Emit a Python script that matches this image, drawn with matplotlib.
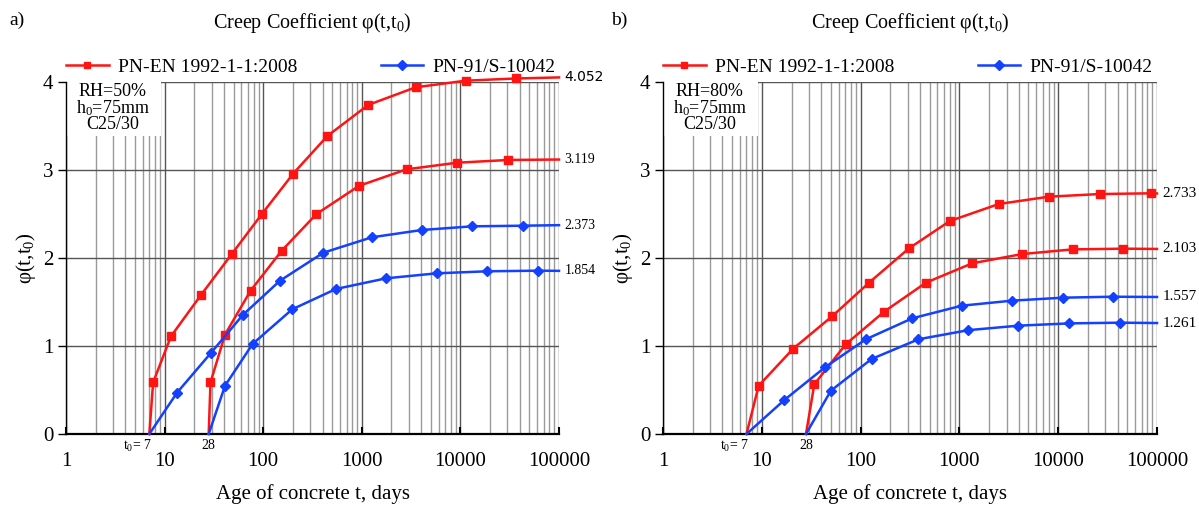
import matplotlib
matplotlib.use("Agg")
import matplotlib.pyplot as plt
from matplotlib.ticker import LogLocator, NullFormatter, FixedLocator
from matplotlib.patches import Rectangle
from matplotlib.lines import Line2D

plt.rcParams['font.family'] = ['Liberation Serif', 'DejaVu Serif']
plt.rcParams['mathtext.fontset'] = 'custom'
plt.rcParams['mathtext.rm'] = 'Liberation Serif'
plt.rcParams['mathtext.it'] = 'Liberation Serif:italic'
plt.rcParams['mathtext.default'] = 'regular'

# ---------------- data ----------------
# Panel a) RH = 50 %
a_en7_t = [7, 7.65, 11.6, 23.4, 48, 97, 202, 447, 1164, 3520, 11300, 36400, 100000]
a_en7_phi = [0, 0.586, 1.11, 1.58, 2.045, 2.50, 2.96, 3.386, 3.74, 3.94, 4.015, 4.04, 4.052]
a_en28_t = [28, 29.2, 41, 74.6, 154, 347, 937, 2850, 9300, 30600, 100000]
a_en28_phi = [0, 0.586, 1.13, 1.63, 2.083, 2.50, 2.82, 3.008, 3.083, 3.114, 3.119]
a_pn7_t = [7, 13.4, 29.3, 62, 148, 407, 1260, 4050, 13200, 42900, 100000]
a_pn7_phi = [0, 0.471, 0.917, 1.352, 1.742, 2.06, 2.235, 2.318, 2.36, 2.367, 2.373]
a_pn28_t = [28, 41, 78, 197, 547, 1760, 5750, 18700, 61600, 100000]
a_pn28_phi = [0, 0.548, 1.023, 1.417, 1.648, 1.769, 1.826, 1.849, 1.856, 1.854]
a_end_labels = ["4.052", "3.119", "2.373", "1.854"]
a_end_values = [4.052, 3.119, 2.373, 1.854]

# Panel b) RH = 80 %
b_en7_t = [7, 9.3, 20.8, 51.8, 122, 309, 800, 2510, 8070, 26500, 86300, 100000]
b_en7_phi = [0, 0.549, 0.97, 1.34, 1.72, 2.11, 2.42, 2.614, 2.697, 2.727, 2.735, 2.733]
b_en28_t = [28, 34, 70.6, 173, 459, 1350, 4330, 14000, 45600, 100000]
b_en28_phi = [0, 0.565, 1.019, 1.39, 1.72, 1.94, 2.045, 2.098, 2.106, 2.103]
b_pn7_t = [7, 16.9, 43.6, 113, 334, 1055, 3380, 11100, 35600, 100000]
b_pn7_phi = [0, 0.386, 0.758, 1.076, 1.315, 1.458, 1.515, 1.549, 1.56, 1.557]
b_pn28_t = [28, 50, 129, 384, 1230, 3950, 12900, 42200, 100000]
b_pn28_phi = [0, 0.492, 0.852, 1.076, 1.18, 1.231, 1.257, 1.265, 1.261]
b_end_labels = ["2.733", "2.103", "1.557", "1.261"]
b_end_values = [2.733, 2.103, 1.557, 1.261]

legend_labels = ["PN-EN 1992-1-1:2008", "PN-91/S-10042"]
x_ticks = [1, 10, 100, 1000, 10000, 100000]
x_ticklabels = ["1", "10", "100", "1000", "10000", "100000"]
y_ticks = [0, 1, 2, 3, 4]
t0_values = [7, 28]

RED = '#ff1414'
BLUE = '#1440ff'

fig = plt.figure(figsize=(11.99, 5.13), dpi=100)
ax_a = fig.add_axes([66/1199, 79/513, 493/1199, 352/513])
ax_b = fig.add_axes([663/1199, 79/513, 494/1199, 352/513])


def panel(ax, series, end_labels, end_values, info, letter_x, letter, ylabel_x, end_font):
    ax.set_xscale('log')
    ax.set_xlim(1, 100000)
    ax.set_ylim(0, 4)
    ax.set_axisbelow(True)
    for s in ['top', 'right']:
        ax.spines[s].set_visible(False)
    ax.spines['bottom'].set_linewidth(1.6)
    ax.spines['left'].set_linewidth(1.0)
    ax.xaxis.set_major_locator(FixedLocator(x_ticks))
    ax.set_xticklabels(x_ticklabels)
    ax.xaxis.set_minor_locator(LogLocator(base=10, subs=range(2, 10), numticks=20))
    ax.xaxis.set_minor_formatter(NullFormatter())
    ax.set_yticks(y_ticks)
    ax.tick_params(axis='x', which='major', direction='in', length=5, width=1.5,
                   labelsize=15, pad=13)
    ax.tick_params(axis='x', which='minor', length=0)
    ax.tick_params(axis='y', which='major', direction='out', length=6, width=1,
                   labelsize=15, pad=3)
    ax.grid(which='major', axis='y', color='#555555', lw=1.0)
    ax.grid(which='major', axis='x', color='#555555', lw=1.0)
    ax.grid(which='minor', axis='x', color='#9a9a9a', lw=1.0)

    # info box
    ax.add_patch(Rectangle((0.002, 0.848), 0.19, 0.16, transform=ax.transAxes,
                           facecolor='white', edgecolor='none', zorder=1.5,
                           clip_on=False))
    ax.text(0.095, 0.998, info, transform=ax.transAxes, ha='center', va='top',
            fontsize=13, linespacing=0.88, zorder=1.6)

    for (t, phi, col, mk, ms) in series:
        ax.plot(t, phi, color=col, lw=1.8, marker=mk, ms=ms, markevery=slice(1, -1),
                clip_on=False, zorder=3, solid_joinstyle='round')

    for lab, v in zip(end_labels, end_values):
        ax.annotate(lab, xy=(100000, v), xytext=(4, 0), textcoords='offset points',
                    ha='left', va='center', fontsize=end_font[0],
                    family=end_font[1] if lab == end_labels[0] else None,
                    annotation_clip=False)

    ax.annotate(r't$_0$= 7', xy=(t0_values[0], -0.034), xycoords=('data', 'axes fraction'),
                xytext=(2, 0), textcoords='offset points',
                ha='right', va='center', fontsize=10, annotation_clip=False)
    ax.annotate('28', xy=(t0_values[1], -0.034), xycoords=('data', 'axes fraction'),
                ha='center', va='center', fontsize=10, annotation_clip=False)

    ax.set_xlabel('Age of concrete t, days', fontsize=15)
    ax.xaxis.set_label_coords(0.5, -0.142)
    ax.set_ylabel(r'φ(t,t$_0$)', fontsize=15)
    ax.yaxis.set_label_coords(ylabel_x, 0.5)
    ax.set_title(r'Creep Coefficient φ(t,t$_0$)', fontsize=14.5, y=1.13)

    handles = [Line2D([], [], color=RED, lw=1.8, marker='s', ms=5),
               Line2D([], [], color=BLUE, lw=1.8, marker='D', ms=5)]
    ax.legend(handles, legend_labels, ncol=2, loc='center left',
              bbox_to_anchor=(0.0, 1.043), frameon=False, fontsize=14,
              handlelength=2.2, handletextpad=0.45, columnspacing=4.3,
              borderpad=0, borderaxespad=0)
    fig.text(letter_x, 0.961, letter, fontsize=14, ha='left', va='center')


panel(ax_a,
      [(a_en7_t, a_en7_phi, RED, 's', 5.5), (a_en28_t, a_en28_phi, RED, 's', 5.5),
       (a_pn7_t, a_pn7_phi, BLUE, 'D', 5.5), (a_pn28_t, a_pn28_phi, BLUE, 'D', 5.5)],
      a_end_labels, a_end_values, 'RH=50%\nh$_0$=75mm\nC25/30', 9/1199, 'a)', -0.056,
      (10, 'DejaVu Sans'))
panel(ax_b,
      [(b_en7_t, b_en7_phi, RED, 's', 5.5), (b_en28_t, b_en28_phi, RED, 's', 5.5),
       (b_pn7_t, b_pn7_phi, BLUE, 'D', 5.5), (b_pn28_t, b_pn28_phi, BLUE, 'D', 5.5)],
      b_end_labels, b_end_values, 'RH=80%\nh$_0$=75mm\nC25/30', 611/1199, 'b)', -0.056,
      (11, None))

fig.savefig('out.png', dpi=100)
